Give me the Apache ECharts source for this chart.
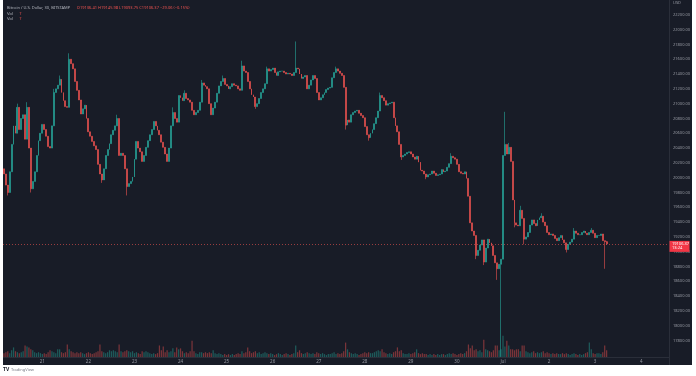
<!DOCTYPE html>
<html>
  <head>
    <title>BTCUSD 30</title>
    <meta charset="UTF-8" />
    <script src="https://cdn.jsdelivr.net/npm/echarts@6/dist/echarts.min.js"></script>
    <style>
      html, body { margin: 0; padding: 0; background: #fff; }
    </style>
  </head>
  <body>
    <div id="main"></div>
    <script>
      const width = 696;
      const height = 376;
      const main = document.getElementById('main');
      main.style.width = `${width}px`;
      main.style.height = `${height}px`;

      // hourly bars starting Jun 20 04:00
      const firstOpen = 20120;
      const closes = [
        20050, 19900, 19800, 20080, 20450, 20700, 20600, 20950, 20650, 20800,
        20850, 20520, 20950, 20400, 19850, 19950, 20080, 20300, 20500, 20600,
        20720, 20650, 20560, 20420, 20400, 20700, 21150, 21200, 21250, 21330,
        21150, 21040, 20960, 20950, 21600, 21540, 21470, 21300, 21180, 21050,
        20860, 20930, 20980, 20800, 20620, 20560, 20490, 20430, 20380, 20180,
        20050, 19970, 20120, 20300, 20380, 20460, 20580, 20640, 20700, 20800,
        20300, 20330, 20300, 20120, 19880, 19920, 19950, 20010, 20250, 20490,
        20400, 20350, 20220, 20300, 20410, 20500, 20580, 20650, 20760, 20700,
        20640, 20580, 20480, 20410, 20320, 20220, 20400, 20700, 20880, 20800,
        20750, 21110, 21080, 21040, 21140, 21070, 21050, 21020, 20910, 20850,
        20880, 20910, 21020, 21280, 21250, 21230, 21200, 21000, 20850, 20940,
        21020, 21140, 21240, 21300, 21340, 21260, 21240, 21200, 21230, 21270,
        21250, 21240, 21200, 21180, 21510, 21440, 21420, 21300, 21200, 21120,
        21090, 20960, 21000, 21070, 21150, 21200, 21270, 21470, 21440, 21460,
        21480, 21420, 21380, 21430, 21440, 21440, 21420, 21400, 21410, 21400,
        21380, 21420, 21480, 21470, 21400, 21340, 21360, 21380, 21200, 21250,
        21320, 21380, 21340, 21150, 21050, 21080, 21120, 21150, 21190, 21210,
        21220, 21350, 21420, 21470, 21440, 21410, 21380, 21220, 20710, 20780,
        20750, 20850, 20880, 20900, 20910, 20870, 20840, 20810, 20690, 20580,
        20540, 20600, 20650, 20730, 20810, 20900, 21110, 21080, 21040, 20980,
        21000, 21010, 21020, 20810, 20700, 20620, 20450, 20280, 20300, 20320,
        20340, 20350, 20320, 20280, 20250, 20290, 20210, 20100, 20090, 20050,
        20010, 20040, 20050, 20090, 20060, 20030, 20040, 20050, 20110, 20080,
        20090, 20140, 20190, 20290, 20270, 20250, 20180, 20080, 20060, 20050,
        20080, 19990, 19750, 19390, 19280, 19220, 18950, 19020, 19090, 19160,
        18860, 19050, 19170, 19120, 19080, 18950, 18850, 18770, 18830, 18900,
        20300, 20450, 20320, 20410, 20220, 19700, 19390, 19360, 19350, 19560,
        19450, 19170, 19200, 19260, 19360, 19430, 19380, 19350, 19430, 19460,
        19480, 19400, 19350, 19260, 19230, 19240, 19220, 19180, 19150, 19190,
        19220, 19160, 19120, 19030, 19100, 19130, 19170, 19280, 19250, 19230,
        19230, 19260, 19280, 19250, 19230, 19260, 19290, 19250, 19190, 19220,
        19220, 19240, 19150, 19136.41, 19106.37,
      ];
      // wick extremes that stick out beyond the bodies
      const wickHighs = {
        7: 21000, 12: 21020, 26: 21200, 29: 21380, 34: 21680, 59: 20850,
        88: 20950, 94: 21180, 103: 21320, 114: 21380, 124: 21580, 137: 21500,
        152: 21840, 173: 21500, 196: 21150, 233: 20330, 261: 20890, 263: 20470,
        269: 19620, 280: 19520, 297: 19320, 306: 19320, 314: 19145.98,
      };
      const wickLows = {
        2: 19760, 14: 19800, 51: 19930, 64: 19760, 131: 20930, 178: 20650,
        190: 20500, 207: 20240, 220: 19980, 246: 18900, 250: 18820, 257: 18620,
        259: 17580, 266: 19330, 271: 19100, 293: 18990, 313: 18770, 314: 19093.75,
      };
      const volumes = [
        200, 250, 300, 200, 350, 500, 300, 250, 200, 250,
        300, 600, 550, 500, 400, 350, 250, 200, 250, 200,
        150, 200, 150, 250, 350, 300, 250, 200, 400, 400,
        250, 200, 250, 650, 400, 300, 250, 200, 250, 200,
        250, 200, 150, 200, 250, 200, 150, 200, 250, 300,
        650, 300, 250, 200, 250, 350, 300, 350, 300, 250,
        650, 300, 250, 300, 350, 300, 250, 300, 200, 250,
        200, 150, 300, 250, 300, 250, 200, 150, 200, 150,
        200, 600, 350, 550, 250, 350, 250, 300, 450, 250,
        500, 400, 450, 300, 200, 250, 200, 300, 850, 300,
        200, 150, 250, 250, 200, 250, 200, 250, 200, 350,
        200, 150, 200, 150, 100, 150, 100, 150, 100, 150,
        100, 150, 200, 150, 300, 200, 250, 500, 300, 200,
        250, 300, 200, 250, 150, 200, 250, 200, 150, 200,
        150, 100, 150, 200, 150, 100, 150, 200, 150, 100,
        150, 200, 600, 250, 350, 200, 150, 200, 250, 200,
        150, 200, 150, 250, 200, 150, 200, 150, 100, 150,
        150, 200, 250, 150, 200, 150, 200, 300, 750, 400,
        250, 200, 150, 200, 150, 100, 150, 200, 250, 200,
        250, 200, 200, 250, 300, 350, 300, 400, 250, 200,
        150, 200, 150, 250, 300, 500, 300, 350, 200, 150,
        150, 200, 150, 200, 250, 400, 200, 150, 200, 150,
        150, 100, 150, 100, 150, 100, 150, 100, 150, 150,
        100, 150, 200, 150, 200, 150, 100, 150, 200, 150,
        200, 300, 650, 450, 600, 350, 400, 300, 350, 250,
        900, 400, 350, 300, 250, 350, 600, 600, 350, 400,
        1100, 550, 850, 600, 400, 400, 350, 400, 400, 300,
        600, 600, 300, 250, 200, 250, 300, 200, 250, 200,
        250, 300, 200, 250, 200, 150, 200, 150, 200, 150,
        150, 200, 150, 200, 150, 100, 150, 200, 150, 100,
        150, 100, 150, 200, 250, 750, 400, 200, 150, 200,
        200, 150, 250, 600, 350,
      ];
      const lastBar = { o: '19136.41', h: '19145.98', l: '19093.75', c: '19106.37', chg: '−29.06', pct: '−0.15%' };
      const countdown = '13:24';
      const totalSlots = 347; // axis runs on past the last bar, to Jul 4 afternoon

      const upColor = '#26a69a';
      const downColor = '#ef5350';
      const textColor = '#9598a1';
      const lineColor = '#2a2e39';
      const font = 'Noto Sans';

      const start = Date.UTC(2022, 5, 20, 4);
      const categories = [];
      for (let i = 0; i < totalSlots; i++) {
        const d = new Date(start + i * 3600e3);
        categories.push(d.toISOString().slice(0, 13) + ':00');
      }

      const candles = closes.map((c, i) => {
        const o = i === 0 ? firstOpen : closes[i - 1];
        const lo = wickLows[i] !== undefined ? wickLows[i] : Math.min(o, c);
        const hi = wickHighs[i] !== undefined ? wickHighs[i] : Math.max(o, c);
        return [o, c, lo, hi];
      });
      const volData = volumes.map((v, i) => ({
        value: v,
        itemStyle: { color: candles[i][1] >= candles[i][0] ? 'rgba(38,166,154,0.45)' : 'rgba(239,83,80,0.45)' },
      }));

      const dayLabel = (value) => {
        const day = parseInt(value.slice(8, 10), 10);
        return day === 1 ? 'Jul' : String(day);
      };

      const myChart = echarts.init(main);
      const option = {
        animation: false,
        backgroundColor: '#181c27',
        textStyle: { fontFamily: font },
        grid: [
          { left: 3, right: 27, top: -7.2, height: 377.4 },
          { left: 3, right: 27, bottom: 19, height: 100 },
        ],
        xAxis: [
          {
            type: 'category', gridIndex: 0, data: categories, boundaryGap: true,
            show: false,
          },
          {
            type: 'category', gridIndex: 1, data: categories, boundaryGap: true,
            axisLine: { lineStyle: { color: lineColor } },
            axisTick: { show: false },
            axisLabel: {
              interval: (idx, value) => value.endsWith('T00:00'),
              formatter: dayLabel,
              fontSize: 4.5, color: textColor, margin: 2.5,
            },
            splitLine: { show: false },
          },
        ],
        yAxis: [
          {
            type: 'value', gridIndex: 0, position: 'right',
            min: 17400, max: 22400, interval: 200,
            axisLine: { show: true, lineStyle: { color: lineColor } },
            axisTick: { show: false },
            splitLine: { show: false },
            axisLabel: {
              fontSize: 4, color: textColor, margin: 4,
              formatter: (v) => (v < 17700 || v > 22300 ? '' : v.toFixed(2)),
            },
          },
          { type: 'value', gridIndex: 1, min: 0, max: 5200, show: false },
        ],
        series: [
          {
            type: 'candlestick',
            xAxisIndex: 0, yAxisIndex: 0,
            data: candles,
            barWidth: '72%',
            itemStyle: {
              color: upColor, color0: downColor,
              borderColor: upColor, borderColor0: downColor,
              borderWidth: 0.6,
            },
            markLine: {
              silent: true,
              symbol: ['none', 'none'],
              label: { show: false },
              lineStyle: { color: downColor, type: [1, 2], width: 1, opacity: 0.6 },
              data: [{ yAxis: closes[closes.length - 1] }],
            },
          },
          {
            type: 'bar',
            xAxisIndex: 1, yAxisIndex: 1,
            data: volData,
            barWidth: '65%',
          },
        ],
      };
      myChart.setOption(option);

      // overlays: header legend, price tag, frame strips, logo
      const yLast = myChart.convertToPixel({ yAxisIndex: 0 }, closes[closes.length - 1]);
      myChart.setOption({
        graphic: [
          { type: 'rect', z: 100, shape: { x: 0, y: 0, width: 3, height: height }, style: { fill: '#ffffff' } },
          { type: 'rect', z: 100, shape: { x: 692, y: 0, width: 4, height: height }, style: { fill: '#ffffff' } },
          { type: 'rect', z: 100, shape: { x: 0, y: 365, width: width, height: 11 }, style: { fill: '#ffffff' } },
          {
            type: 'text', z: 101, left: 7, top: 2,
            style: {
              text: `{t|Bitcoin / U.S. Dollar, 30, BITSTAMP}  {v|O${lastBar.o} H${lastBar.h} L${lastBar.l} C${lastBar.c} ${lastBar.chg} (${lastBar.pct})}`,
              rich: {
                t: { fontSize: 4, fill: '#b2b5be', fontFamily: font },
                v: { fontSize: 4, fill: downColor, fontFamily: font },
              },
            },
          },
          {
            type: 'text', z: 101, left: 7, top: 7.5,
            style: { text: '{t|Vol}  {v|7}', rich: { t: { fontSize: 4, fill: '#b2b5be' }, v: { fontSize: 4, fill: downColor } } },
          },
          {
            type: 'text', z: 101, left: 7, top: 13,
            style: { text: '{t|Vol}  {v|7}', rich: { t: { fontSize: 4, fill: '#b2b5be' }, v: { fontSize: 4, fill: downColor } } },
          },
          {
            type: 'text', z: 101, left: 673, top: 1,
            style: { text: 'USD', fontSize: 4, fill: textColor, fontFamily: font },
          },
          {
            type: 'rect', z: 101,
            shape: { x: 669.5, y: yLast - 3, width: 20, height: 11 },
            style: { fill: '#f23645' },
          },
          {
            type: 'text', z: 102, left: 672, top: yLast - 2.3,
            style: { text: lastBar.c, fontSize: 4, fill: '#ffffff', fontFamily: font },
          },
          {
            type: 'text', z: 102, left: 672, top: yLast + 2.4,
            style: { text: countdown, fontSize: 4, fill: '#ffffff', fontFamily: font },
          },
          {
            type: 'text', z: 101, left: 3, top: 367.5,
            style: { text: 'TV', fontSize: 5, fontWeight: 'bold', fill: '#131722', fontFamily: font },
          },
          {
            type: 'text', z: 101, left: 11, top: 368,
            style: { text: 'TradingView', fontSize: 4, fill: '#787b86', fontFamily: font },
          },
        ],
      });
    </script>
  </body>
</html>
